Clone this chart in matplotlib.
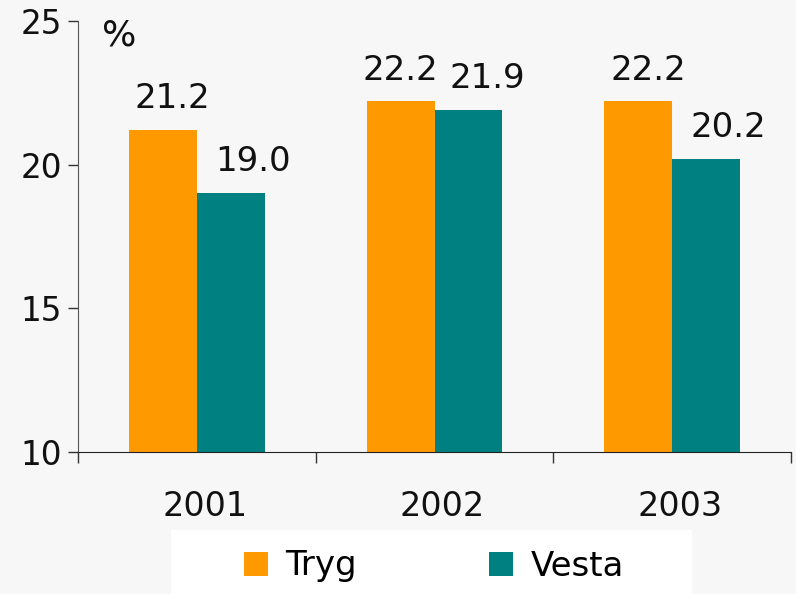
import numpy as np
import matplotlib
matplotlib.use("Agg")
import matplotlib.pyplot as plt
import matplotlib.transforms as mtransforms
from matplotlib.patches import Rectangle, Patch

# Chart data
years = ["2001", "2002", "2003"]
tryg = [21.2, 22.2, 22.2]
vesta = [19.0, 21.9, 20.2]
series_names = ["Tryg", "Vesta"]

colors = ["#ff9900", "#008080"]
bg = "#f7f7f7"

plt.rcParams["font.family"] = "DejaVu Sans"

fig = plt.figure(figsize=(7.96, 5.94), dpi=100, facecolor=bg)
ax = fig.add_axes([78 / 796, 1 - 452 / 594, 713 / 796, 431 / 594])
ax.set_facecolor(bg)

x = np.arange(len(years))
w = 0.285
bars_t = ax.bar(x - w / 2, tryg, w, bottom=0, color=colors[0], zorder=2)
bars_v = ax.bar(x + w / 2, vesta, w, bottom=0, color=colors[1], zorder=2)

# value labels, nudged right a bit like the original
dx_t = [7, 0, 7]
dx_v = [16, 14, 16]
for bars, vals, dxs in [(bars_t, tryg, dx_t), (bars_v, vesta, dx_v)]:
    for b, v, d in zip(bars, vals, dxs):
        ax.annotate(f"{v:.1f}", (b.get_x() + b.get_width() / 2, v),
                    xytext=(d, 15.8), textcoords="offset points",
                    ha="center", va="baseline", fontsize=24.5, color="#111111")

ax.set_xlim(-0.5, 2.5)
ax.set_ylim(10, 25)
ax.set_yticks([10, 15, 20, 25])
ax.tick_params(axis="y", length=7.5, width=1, pad=4, labelsize=23.5,
               color="#333333", labelcolor="#111111")

# boundary ticks on x, year labels in between
ax.set_xticks([-0.5, 0.5, 1.5, 2.5])
ax.set_xticklabels([])
ax.tick_params(axis="x", which="major", length=8, width=1, color="#333333")
ax.set_xticks(x, minor=True)
ax.set_xticklabels(years, minor=True)
ax.tick_params(axis="x", which="minor", length=0, pad=27.5, labelsize=24,
               labelcolor="#111111")
shift = mtransforms.ScaledTranslation(8 / 100, 0, fig.dpi_scale_trans)
for lbl in ax.get_xticklabels(minor=True):
    lbl.set_transform(lbl.get_transform() + shift)

for s in ["top", "right"]:
    ax.spines[s].set_visible(False)
ax.spines["left"].set_color("#555555")
ax.spines["bottom"].set_color("#222222")

ax.text(24 / 713, (452 - 45) / 431, "%", transform=ax.transAxes,
        fontsize=26, va="baseline", ha="left", color="#111111")

# legend on a white panel at the bottom
fig.patches.append(Rectangle((171 / 796, 0), 521 / 796, 64 / 594,
                             transform=fig.transFigure, facecolor="white",
                             edgecolor="none", zorder=0))
handles = [Patch(facecolor=c, edgecolor="none") for c in colors]
fig.legend(handles, series_names, loc="center", ncol=2,
           bbox_to_anchor=(434 / 796, 1 - 566 / 594), frameon=False,
           fontsize=24.5, handlelength=0.7, handleheight=0.7,
           handletextpad=0.5, columnspacing=3.9, borderpad=0)

fig.savefig("out.png", dpi=100, facecolor=bg)
